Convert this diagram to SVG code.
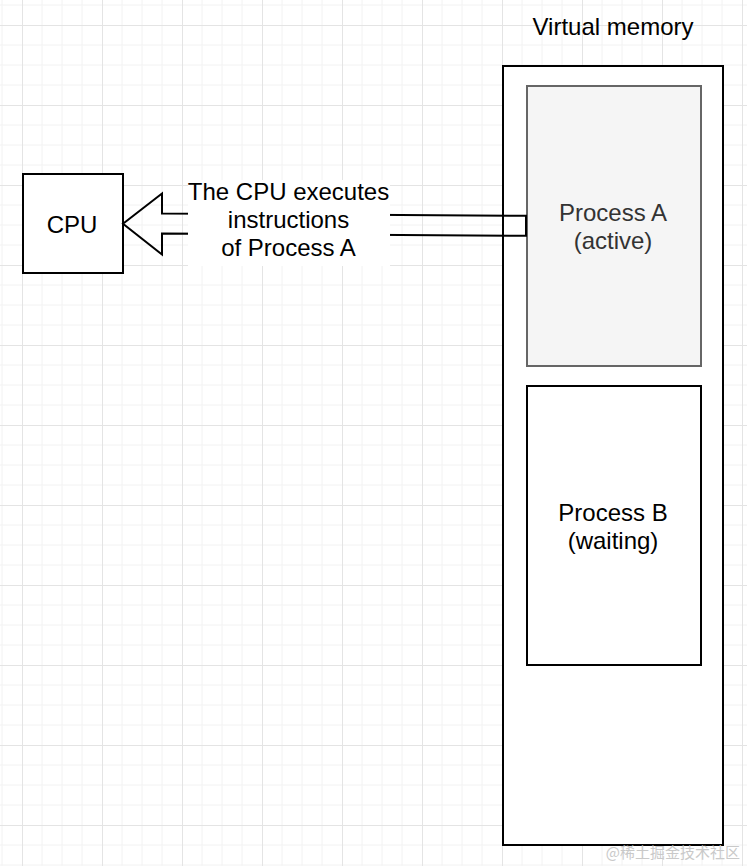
<svg xmlns="http://www.w3.org/2000/svg" width="747" height="866" viewBox="0 0 747 866">
  <defs>
    <pattern id="grid" patternUnits="userSpaceOnUse" x="22" y="25" width="80" height="80">
      <path d="M20 0V80M40 0V80M60 0V80M0 20H80M0 40H80M0 60H80" fill="none" stroke="#f2f2f2" stroke-width="1"/>
      <path d="M0.5 0V80M0 0.5H80" fill="none" stroke="#e4e4e4" stroke-width="1"/>
    </pattern>
    <style>
      .t { font-family: "Liberation Sans", Arial, Helvetica, sans-serif; font-size: 24px; text-anchor: middle; fill: #000; }
      .box { fill: #fff; stroke: #000; stroke-width: 2; }
    </style>
  </defs>
  <rect width="747" height="866" fill="#fff"/>
  <rect width="747" height="866" fill="url(#grid)"/>

  <g id="virtual-memory">
    <rect class="box" x="503" y="66" width="220" height="779"/>
    <text class="t" x="613" y="35">Virtual memory</text>
  </g>

  <g id="process-a">
    <rect x="527" y="86" width="174" height="280" fill="#f5f5f5" stroke="#666666" stroke-width="2"/>
    <text class="t" x="613" y="221" style="fill:#333333">Process A</text>
    <text class="t" x="613" y="249" style="fill:#333333">(active)</text>
  </g>

  <g id="process-b">
    <rect class="box" x="527" y="386" width="174" height="279"/>
    <text class="t" x="613" y="521">Process B</text>
    <text class="t" x="613" y="549">(waiting)</text>
  </g>

  <g id="cpu">
    <rect class="box" x="23" y="174" width="100" height="99"/>
    <text class="t" x="72" y="233">CPU</text>
  </g>

  <g id="connectors">
    <path d="M526 215.8L162 213.5V193.5L123 223.8L162 254.5V233.5L526 235.8Z" fill="none" stroke="#000" stroke-width="2" stroke-linejoin="miter"/>
    <rect x="188" y="180" width="202" height="86" fill="#fff"/>
    <text class="t" x="288.5" y="200">The CPU executes</text>
    <text class="t" x="288.5" y="228">instructions</text>
    <text class="t" x="288.5" y="256">of Process A</text>
  </g>

  <text x="740" y="858" text-anchor="end" font-family="'Noto Sans CJK SC', 'Liberation Sans', sans-serif" font-size="15" fill="#c9c9c9">@稀土掘金技术社区</text>
</svg>
